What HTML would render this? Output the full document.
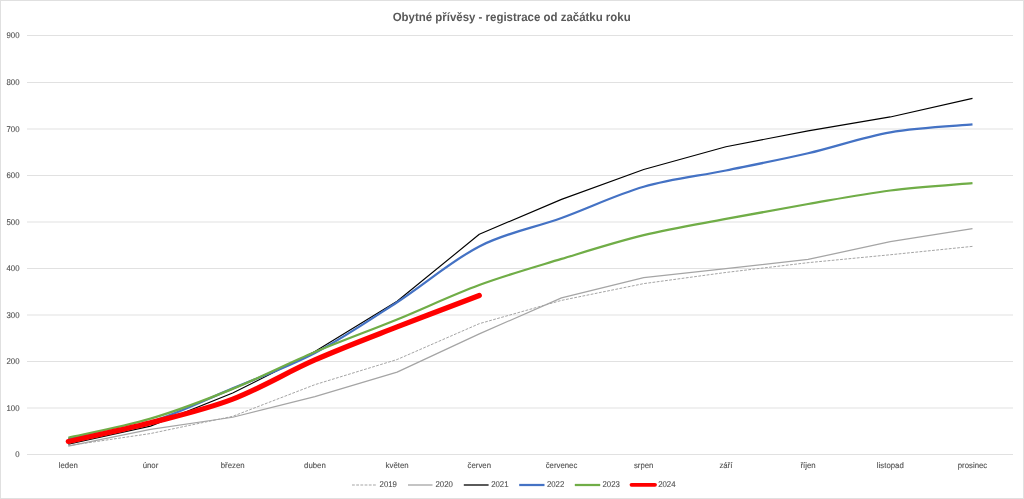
<!DOCTYPE html>
<html><head><meta charset="utf-8"><style>
html,body{margin:0;padding:0;background:#fff;}
body{width:1024px;height:499px;overflow:hidden;}
svg{display:block;}
svg text{filter:grayscale(1);text-rendering:geometricPrecision;}
.ax{font-family:"Liberation Sans",sans-serif;font-size:8.3px;fill:#505050;stroke:#505050;stroke-width:0.12px;}
.sm{font-size:8.05px;}
.tt{font-family:"Liberation Sans",sans-serif;font-size:12px;font-weight:bold;fill:#595959;}
</style></head><body>
<svg width="1024" height="499" viewBox="0 0 1024 499">
<rect x="0.5" y="0.5" width="1023" height="498" fill="#fff" stroke="#e0e0e0" stroke-width="1"/>
<text x="392.7" y="20.7" textLength="238" lengthAdjust="spacingAndGlyphs" class="tt">Obytné přívěsy - registrace od začátku roku</text>
<line x1="27" y1="454.50" x2="1013" y2="454.50" stroke="#e1e1e1" stroke-width="1"/>
<text x="19.5" y="457.20" text-anchor="end" class="ax" textLength="4.344" lengthAdjust="spacingAndGlyphs">0</text>
<line x1="27" y1="408.00" x2="1013" y2="408.00" stroke="#e1e1e1" stroke-width="1"/>
<text x="19.5" y="410.70" text-anchor="end" class="ax" textLength="13.016" lengthAdjust="spacingAndGlyphs">100</text>
<line x1="27" y1="361.50" x2="1013" y2="361.50" stroke="#e1e1e1" stroke-width="1"/>
<text x="19.5" y="364.20" text-anchor="end" class="ax" textLength="13.016" lengthAdjust="spacingAndGlyphs">200</text>
<line x1="27" y1="315.00" x2="1013" y2="315.00" stroke="#e1e1e1" stroke-width="1"/>
<text x="19.5" y="317.70" text-anchor="end" class="ax" textLength="13.016" lengthAdjust="spacingAndGlyphs">300</text>
<line x1="27" y1="268.50" x2="1013" y2="268.50" stroke="#e1e1e1" stroke-width="1"/>
<text x="19.5" y="271.20" text-anchor="end" class="ax" textLength="13.016" lengthAdjust="spacingAndGlyphs">400</text>
<line x1="27" y1="222.00" x2="1013" y2="222.00" stroke="#e1e1e1" stroke-width="1"/>
<text x="19.5" y="224.70" text-anchor="end" class="ax" textLength="13.016" lengthAdjust="spacingAndGlyphs">500</text>
<line x1="27" y1="175.50" x2="1013" y2="175.50" stroke="#e1e1e1" stroke-width="1"/>
<text x="19.5" y="178.20" text-anchor="end" class="ax" textLength="13.016" lengthAdjust="spacingAndGlyphs">600</text>
<line x1="27" y1="129.00" x2="1013" y2="129.00" stroke="#e1e1e1" stroke-width="1"/>
<text x="19.5" y="131.70" text-anchor="end" class="ax" textLength="13.016" lengthAdjust="spacingAndGlyphs">700</text>
<line x1="27" y1="82.50" x2="1013" y2="82.50" stroke="#e1e1e1" stroke-width="1"/>
<text x="19.5" y="85.20" text-anchor="end" class="ax" textLength="13.016" lengthAdjust="spacingAndGlyphs">800</text>
<line x1="27" y1="35.50" x2="1013" y2="35.50" stroke="#e1e1e1" stroke-width="1"/>
<text x="19.5" y="38.20" text-anchor="end" class="ax" textLength="13.016" lengthAdjust="spacingAndGlyphs">900</text>
<text x="68.30" y="467.9" text-anchor="middle" class="ax sm" textLength="19.078" lengthAdjust="spacingAndGlyphs">leden</text>
<text x="150.50" y="467.9" text-anchor="middle" class="ax sm" textLength="15.609" lengthAdjust="spacingAndGlyphs">únor</text>
<text x="232.70" y="467.9" text-anchor="middle" class="ax sm" textLength="23.844" lengthAdjust="spacingAndGlyphs">březen</text>
<text x="314.90" y="467.9" text-anchor="middle" class="ax sm" textLength="21.688" lengthAdjust="spacingAndGlyphs">duben</text>
<text x="397.10" y="467.9" text-anchor="middle" class="ax sm" textLength="22.984" lengthAdjust="spacingAndGlyphs">květen</text>
<text x="479.30" y="467.9" text-anchor="middle" class="ax sm" textLength="23.406" lengthAdjust="spacingAndGlyphs">červen</text>
<text x="561.50" y="467.9" text-anchor="middle" class="ax sm" textLength="31.641" lengthAdjust="spacingAndGlyphs">červenec</text>
<text x="643.70" y="467.9" text-anchor="middle" class="ax sm" textLength="19.516" lengthAdjust="spacingAndGlyphs">srpen</text>
<text x="725.90" y="467.9" text-anchor="middle" class="ax sm" textLength="13.000" lengthAdjust="spacingAndGlyphs">září</text>
<text x="808.10" y="467.9" text-anchor="middle" class="ax sm" textLength="15.172" lengthAdjust="spacingAndGlyphs">říjen</text>
<text x="890.30" y="467.9" text-anchor="middle" class="ax sm" textLength="26.875" lengthAdjust="spacingAndGlyphs">listopad</text>
<text x="972.50" y="467.9" text-anchor="middle" class="ax sm" textLength="29.484" lengthAdjust="spacingAndGlyphs">prosinec</text>
<path d="M68.30,445.65 L150.50,433.55 L232.70,416.32 L314.90,384.66 L397.10,359.52 L479.30,323.67 L561.50,300.39 L643.70,283.62 L725.90,272.45 L808.10,262.67 L890.30,254.76 L972.50,246.38" fill="none" stroke="#a5a5a5" stroke-width="1.0" stroke-linejoin="round" stroke-linecap="butt" stroke-dasharray="2.8 1.4"/>
<path d="M68.30,446.12 L150.50,429.36 L232.70,417.25 L314.90,396.53 L397.10,372.09 L479.30,333.91 L561.50,297.83 L643.70,277.57 L725.90,268.73 L808.10,259.41 L890.30,241.72 L972.50,228.68" fill="none" stroke="#a5a5a5" stroke-width="1.25" stroke-linejoin="round" stroke-linecap="butt"/>
<path d="M68.30,444.26 L150.50,426.10 L232.70,393.04 L314.90,351.60 L397.10,301.32 L479.30,234.27 L561.50,199.35 L643.70,169.55 L725.90,146.74 L808.10,130.91 L890.30,116.94 L972.50,98.32" fill="none" stroke="#000000" stroke-width="1.15" stroke-linejoin="round" stroke-linecap="butt"/>
<path d="M68.30,439.14 C82.00,436.26 123.10,430.37 150.50,421.91 C177.90,413.45 205.30,399.87 232.70,388.38 C260.10,376.90 287.50,367.36 314.90,353.00 C342.30,338.64 369.70,320.02 397.10,302.25 C424.50,284.48 451.90,260.42 479.30,246.38 C506.70,232.33 534.10,227.91 561.50,217.98 C588.90,208.04 616.30,194.70 643.70,186.78 C671.10,178.86 698.50,176.07 725.90,170.48 C753.30,164.90 780.70,159.62 808.10,153.26 C835.50,146.89 862.90,137.12 890.30,132.30 C917.70,127.49 958.80,125.71 972.50,124.39" fill="none" stroke="#4472c4" stroke-width="2.25" stroke-linejoin="round" stroke-linecap="butt"/>
<path d="M68.30,437.74 C82.00,434.56 123.10,426.80 150.50,418.65 C177.90,410.50 205.30,399.95 232.70,388.85 C260.10,377.75 287.50,363.63 314.90,352.07 C342.30,340.51 369.70,330.65 397.10,319.48 C424.50,308.30 451.90,295.11 479.30,285.02 C506.70,274.93 534.10,267.25 561.50,258.95 C588.90,250.64 616.30,241.88 643.70,235.20 C671.10,228.53 698.50,224.11 725.90,218.91 C753.30,213.71 780.70,208.74 808.10,204.01 C835.50,199.27 862.90,194.00 890.30,190.50 C917.70,187.01 958.80,184.30 972.50,183.06" fill="none" stroke="#70ad47" stroke-width="2.25" stroke-linejoin="round" stroke-linecap="butt"/>
<path d="M68.30,441.46 C82.00,438.36 123.10,429.90 150.50,422.84 C177.90,415.78 205.30,409.57 232.70,399.09 C260.10,388.62 287.50,372.01 314.90,359.98 C342.30,347.96 369.70,337.67 397.10,326.93 C424.50,316.18 465.60,300.74 479.30,295.50" fill="none" stroke="#ff0000" stroke-width="5.2" stroke-linejoin="round" stroke-linecap="round"/>
<line x1="352" y1="485.0" x2="376" y2="485.0" stroke="#a5a5a5" stroke-width="1.0" stroke-linecap="butt" stroke-dasharray="2.8 1.4"/>
<text x="379.6" y="487.1" class="ax" textLength="17.359" lengthAdjust="spacingAndGlyphs">2019</text>
<line x1="408" y1="485.0" x2="432.5" y2="485.0" stroke="#a5a5a5" stroke-width="1.3" stroke-linecap="butt"/>
<text x="435.5" y="487.1" class="ax" textLength="17.359" lengthAdjust="spacingAndGlyphs">2020</text>
<line x1="463.8" y1="485.0" x2="488.6" y2="485.0" stroke="#000" stroke-width="1.3" stroke-linecap="butt"/>
<text x="491.2" y="487.1" class="ax" textLength="17.359" lengthAdjust="spacingAndGlyphs">2021</text>
<line x1="519.2" y1="485.0" x2="544.5" y2="485.0" stroke="#4472c4" stroke-width="2.25" stroke-linecap="butt"/>
<text x="546.9" y="487.1" class="ax" textLength="17.359" lengthAdjust="spacingAndGlyphs">2022</text>
<line x1="574.8" y1="485.0" x2="600.2" y2="485.0" stroke="#70ad47" stroke-width="2.25" stroke-linecap="butt"/>
<text x="602.5" y="487.1" class="ax" textLength="17.359" lengthAdjust="spacingAndGlyphs">2023</text>
<line x1="631.5" y1="484.85" x2="655" y2="484.85" stroke="#ff0000" stroke-width="3.8" stroke-linecap="round"/>
<text x="658.2" y="487.1" class="ax" textLength="17.359" lengthAdjust="spacingAndGlyphs">2024</text>
</svg>
</body></html>
